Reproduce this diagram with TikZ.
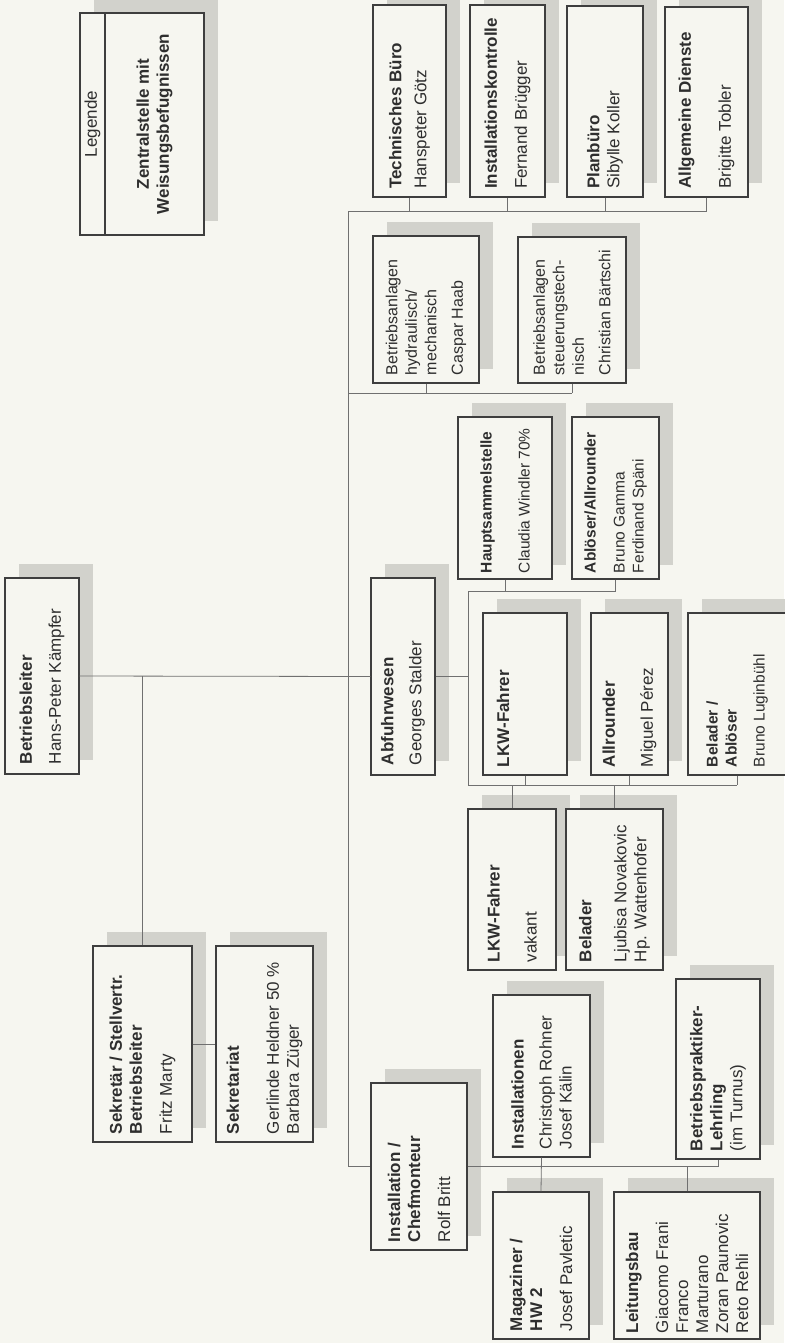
\documentclass[tikz,border=0pt]{standalone}
\usepackage{fontspec}
\setmainfont{Liberation Sans}
\usepackage{graphicx}
\usepackage{tikz}
\usetikzlibrary{shadows}
\definecolor{paper}{RGB}{246,246,240}
\definecolor{ink}{RGB}{62,62,62}
\definecolor{shade}{RGB}{210,210,204}
\definecolor{wire}{RGB}{112,112,112}
\newcommand{\vlabel}[2]{\rotatebox{90}{\parbox{#1pt}{\raggedright #2}}}
\tikzset{orgbox/.style={draw=ink, line width=1.2pt, fill=paper, inner sep=0pt,
   text=black!82, font=\fontsize{17}{20}\selectfont,
   drop shadow={shadow xshift=14pt, shadow yshift=14pt, fill=shade, opacity=1}},
 smallbox/.style={orgbox, font=\fontsize{15.5}{19}\selectfont},
 midbox/.style={orgbox, font=\fontsize{16}{19.5}\selectfont},
 link/.style={draw=wire, line width=0.8pt},
 }

\begin{document}
\begin{tikzpicture}[x=1pt,y=-1pt]
    \useasboundingbox (0,0) rectangle (784,1343);
    \fill[paper] (0,0) rectangle (784,1343);

    \node[orgbox, minimum width=25pt, minimum height=222pt] (legendtag) at (92.5,124) {\rotatebox{90}{Legende}};
    \node[orgbox, minimum width=99pt, minimum height=222pt] (legend) at (154.5,124)
        {\rotatebox{90}{\parbox{210pt}{\centering\bfseries Zentralstelle mit\\ Weisungsbefugnissen}}};

    \node[orgbox, minimum width=73pt, minimum height=192pt] (tech) at (409.5,101)
        {\vlabel{176}{\textbf{Technisches Büro}\\[5pt] Hanspeter Götz}};
    \node[orgbox, minimum width=75pt, minimum height=192pt] (inst) at (507.5,101)
        {\vlabel{176}{\textbf{Installationskontrolle}\\[10pt] Fernand Brügger}};
    \node[orgbox, minimum width=76pt, minimum height=191pt] (plan) at (605,101.5)
        {\vlabel{175}{\textbf{Planbüro}\\ Sibylle Koller}};
    \node[orgbox, minimum width=83pt, minimum height=190pt] (allg) at (706.5,102)
        {\vlabel{174}{\textbf{Allgemeine Dienste}\\[20pt] Brigitte Tobler}};

    \node[midbox, minimum width=106pt, minimum height=147pt] (hydr) at (426,309.5)
        {\vlabel{131}{Betriebsanlagen\\ hydraulisch/\\ mechanisch\\[7pt] Caspar Haab}};
    \node[midbox, minimum width=108pt, minimum height=146pt] (steu) at (572,310)
        {\vlabel{130}{Betriebsanlagen\\ steuerungstech-\\ nisch\\[7pt] Christian Bärtschi}};

    \node[smallbox, minimum width=94pt, minimum height=162pt] (haupt) at (505,498)
        {\vlabel{150}{\textbf{Hauptsammelstelle}\\[19pt] Claudia Windler 70\%}};
    \node[smallbox, minimum width=87pt, minimum height=162pt] (abl) at (615.5,498)
        {\vlabel{150}{\textbf{Ablöser/Allrounder}\\[10pt] Bruno Gamma\\ Ferdinand Späni}};

    \node[orgbox, minimum width=74pt, minimum height=196pt] (leiter) at (42,676)
        {\vlabel{176}{\textbf{Betriebsleiter}\\[9pt] Hans-Peter Kämpfer}};
    \node[orgbox, minimum width=64pt, minimum height=197pt] (abfuhr) at (403,676.5)
        {\vlabel{177}{\textbf{Abfuhrwesen}\\[8pt] Georges Stalder}};

    \node[orgbox, minimum width=84pt, minimum height=162pt] (lkwa) at (525,694)
        {\vlabel{146}{\textbf{LKW-Fahrer}\\[18pt]\strut}};
    \node[orgbox, minimum width=77pt, minimum height=162pt] (allr) at (629.5,694)
        {\vlabel{146}{\textbf{Allrounder}\\[18pt] Miguel Pérez}};
    \node[smallbox, minimum width=98pt, minimum height=162pt] (belabl) at (737,694)
        {\vlabel{146}{\textbf{Belader /}\\ \textbf{Ablöser}\\[9pt] Bruno Luginbühl}};

    \node[orgbox, minimum width=88pt, minimum height=161pt] (lkwb) at (512,889.5)
        {\vlabel{145}{\textbf{LKW-Fahrer}\\[17pt] vakant}};
    \node[orgbox, minimum width=97pt, minimum height=161pt] (belader) at (614.5,889.5)
        {\vlabel{145}{\textbf{Belader}\\[15pt] Ljubisa Novakovic\\ Hp. Wattenhofer}};

    \node[orgbox, minimum width=99pt, minimum height=196pt] (sekr) at (142.5,1044)
        {\vlabel{180}{\textbf{Sekretär / Stellvertr.}\\ \textbf{Betriebsleiter}\\[10pt] Fritz Marty}};
    \node[orgbox, minimum width=97pt, minimum height=196pt] (sekretariat) at (264.5,1044)
        {\vlabel{180}{\textbf{Sekretariat}\\[20pt] Gerlinde Heldner 50 \%\\ Barbara Züger}};

    \node[orgbox, minimum width=96pt, minimum height=167pt] (installation) at (419,1166.5)
        {\vlabel{151}{\textbf{Installation /}\\ \textbf{Chefmonteur}\\[10pt] Rolf Britt}};
    \node[orgbox, minimum width=97pt, minimum height=162pt] (installationen) at (541.5,1076)
        {\vlabel{146}{\textbf{Installationen}\\[8pt] Christoph Rohner\\ Josef Kälin}};
    \node[orgbox, minimum width=84pt, minimum height=180pt] (praktiker) at (718,1069)
        {\vlabel{164}{\textbf{Betriebspraktiker-}\\ \textbf{Lehrling}\\ (im Turnus)}};
    \node[orgbox, minimum width=96pt, minimum height=147pt] (magaz) at (541,1265.5)
        {\vlabel{131}{\textbf{Magaziner /}\\ \textbf{HW 2}\\[10pt] Josef Pavletic}};
    \node[orgbox, minimum width=146pt, minimum height=147pt] (leitung) at (687,1265.5)
        {\vlabel{135}{\textbf{Leitungsbau}\\[10pt] Giacomo Frani\\ Franco\\ Marturano\\ Zoran Paunovic\\ Reto Rehli}};

    \coordinate (stafftop) at (348,211);
    \coordinate (plantbus) at (348,393);
    \coordinate (haulup) at (468,591);
    \coordinate (hauldown) at (468,785);

    \draw[link] (stafftop) -- (stafftop -| allg.south);
    \foreach \n in {tech,inst,plan,allg}
        \draw[link] (\n.south) -- (\n.south |- stafftop);
    \draw[link] (plantbus) -- (plantbus -| steu.south);
    \foreach \n in {hydr,steu}
        \draw[link] (\n.south) -- (\n.south |- plantbus);
    \draw[link] (stafftop) -- (stafftop |- installation.west) -- (installation.west);

    \draw[link] (leiter.east) -- (abfuhr.west);
    \draw[link] (leiter.east -| sekr.north) -- (sekr.north);
    \draw[link] (sekr.east) -- (sekretariat.west);

    \draw[link] (abfuhr.east) -- (abfuhr.east -| haulup);
    \draw[link] (haulup) -- (hauldown);
    \draw[link] (haulup) -- (haulup -| abl.south);
    \foreach \n in {haupt,abl}
        \draw[link] (\n.south) -- (\n.south |- haulup);
    \draw[link] (hauldown) -- (hauldown -| belabl.south);
    \foreach \n in {lkwa,allr,belabl}
        \draw[link] (\n.south) -- (\n.south |- hauldown);
    \foreach \n in {lkwb,belader}
        \draw[link] (\n.north) -- (\n.north |- hauldown);

    \draw[link] (installation.east) -- (installation.east -| praktiker.south) -- (praktiker.south);
    \draw[link] (installationen.south) -- (magaz.north);
    \draw[link] (leitung.north) -- (leitung.north |- installation.east);
\end{tikzpicture}
\end{document}
